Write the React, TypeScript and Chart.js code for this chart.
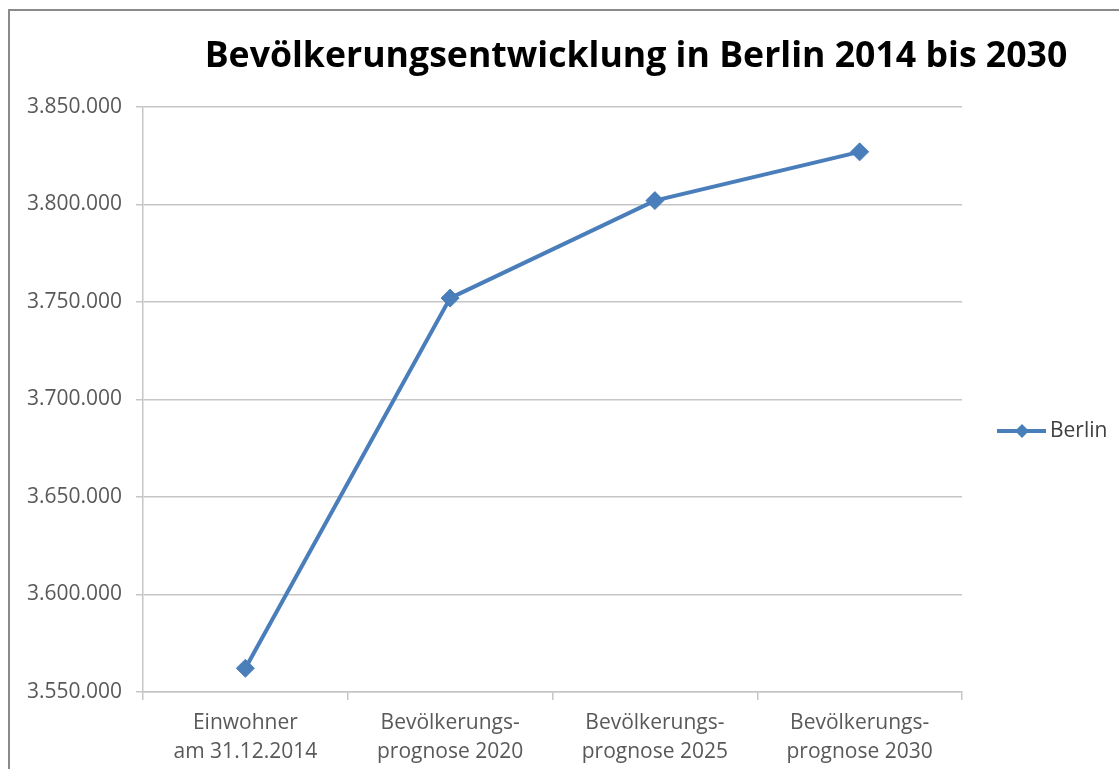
import React, { useEffect, useRef } from "react";
import { Chart, registerables } from "chart.js";

Chart.register(...registerables);

const categories: string[][] = [
  ["Einwohner", "am 31.12.2014"],
  ["Bevölkerungs-", "prognose 2020"],
  ["Bevölkerungs-", "prognose 2025"],
  ["Bevölkerungs-", "prognose 2030"],
];
const berlinValues: number[] = [3562166, 3752000, 3802000, 3827000];
const seriesName = "Berlin";
const chartTitle = "Bevölkerungsentwicklung in Berlin 2014 bis 2030";
const yMin = 3550000;
const yMax = 3850000;
const yStep = 50000;

const FONT = "'Open Sans', 'DejaVu Sans', sans-serif";
const LINE_COLOR = "#4a7ebb";
const GRID_COLOR = "#c6c6c6";

function formatDE(v: number): string {
  const s = Math.round(v).toString();
  return s.replace(/\B(?=(\d{3})+(?!\d))/g, ".");
}

const overlayPlugin = {
  id: "overlay",
  afterDraw(chart: any) {
    const ctx = chart.ctx as CanvasRenderingContext2D;
    ctx.save();
    // Title
    const targetW = 863;
    ctx.font = `bold 100px ${FONT}`;
    const w100 = ctx.measureText(chartTitle).width;
    const size = (100 * targetW) / w100;
    ctx.font = `bold ${size}px ${FONT}`;
    ctx.fillStyle = "#000000";
    ctx.textAlign = "center";
    ctx.textBaseline = "middle";
    ctx.fillText(chartTitle, 636, 57);

    // Legend
    const ly = 431;
    ctx.strokeStyle = LINE_COLOR;
    ctx.lineWidth = 4;
    ctx.beginPath();
    ctx.moveTo(997, ly);
    ctx.lineTo(1046, ly);
    ctx.stroke();
    ctx.fillStyle = LINE_COLOR;
    const r = 7;
    ctx.beginPath();
    ctx.moveTo(1022, ly - r);
    ctx.lineTo(1022 + r, ly);
    ctx.lineTo(1022, ly + r);
    ctx.lineTo(1022 - r, ly);
    ctx.closePath();
    ctx.fill();
    ctx.font = `21px ${FONT}`;
    ctx.fillStyle = "#404040";
    ctx.textAlign = "left";
    ctx.textBaseline = "middle";
    ctx.fillText(seriesName, 1050, ly);
    ctx.restore();
  },
};

export default function App() {
  const canvasRef = useRef<HTMLCanvasElement | null>(null);

  useEffect(() => {
    if (!canvasRef.current) return;
    const chart = new Chart(canvasRef.current, {
      type: "line",
      data: {
        labels: categories,
        datasets: [
          {
            label: seriesName,
            data: berlinValues,
            borderColor: LINE_COLOR,
            backgroundColor: LINE_COLOR,
            borderWidth: 4,
            pointStyle: "rectRot",
            pointRadius: 9,
            pointHoverRadius: 9,
            pointBackgroundColor: LINE_COLOR,
            pointBorderColor: LINE_COLOR,
            pointBorderWidth: 1,
            tension: 0,
          },
        ],
      },
      options: {
        animation: false,
        responsive: false,
        maintainAspectRatio: false,
        events: [],
        layout: { padding: { left: 0, top: 107, right: 157, bottom: 0 } },
        plugins: {
          legend: { display: false },
          title: { display: false },
          tooltip: { enabled: false },
        },
        scales: {
          x: {
            type: "category",
            offset: true,
            afterFit(scale: any) {
              scale.height = 77;
            },
            grid: {
              display: true,
              drawOnChartArea: false,
              drawTicks: true,
              tickLength: 8,
              color: GRID_COLOR,
              lineWidth: 1.5,
              offset: true,
            },
            border: { display: true, color: GRID_COLOR, width: 1.5 },
            ticks: {
              color: "#595959",
              font: { family: FONT, size: 21, lineHeight: 1.4 },
              padding: 8,
              maxRotation: 0,
              autoSkip: false,
            },
          },
          y: {
            type: "linear",
            min: yMin,
            max: yMax,
            afterFit(scale: any) {
              scale.width = 143;
            },
            grid: {
              display: true,
              drawOnChartArea: true,
              drawTicks: true,
              tickLength: 7,
              color: GRID_COLOR,
              lineWidth: 1.5,
            },
            border: { display: true, color: GRID_COLOR, width: 1.5 },
            ticks: {
              stepSize: yStep,
              color: "#595959",
              font: { family: FONT, size: 21 },
              padding: 14,
              callback: (v: any) => formatDE(Number(v)),
            },
          },
        },
      },
      plugins: [overlayPlugin],
    });
    return () => chart.destroy();
  }, []);

  return (
    <div
      style={{
        position: "absolute",
        left: 0,
        top: 0,
        width: 1119,
        height: 769,
        overflow: "hidden",
        background: "#ffffff",
      }}
    >
      <div
        style={{
          position: "absolute",
          left: 8,
          top: 9,
          width: 1130,
          height: 780,
          border: "2px solid #8a8a8a",
          boxSizing: "border-box",
        }}
      />
      <canvas
        ref={canvasRef}
        width={1119}
        height={769}
        style={{ position: "absolute", left: 0, top: 0, width: 1119, height: 769 }}
      />
    </div>
  );
}
